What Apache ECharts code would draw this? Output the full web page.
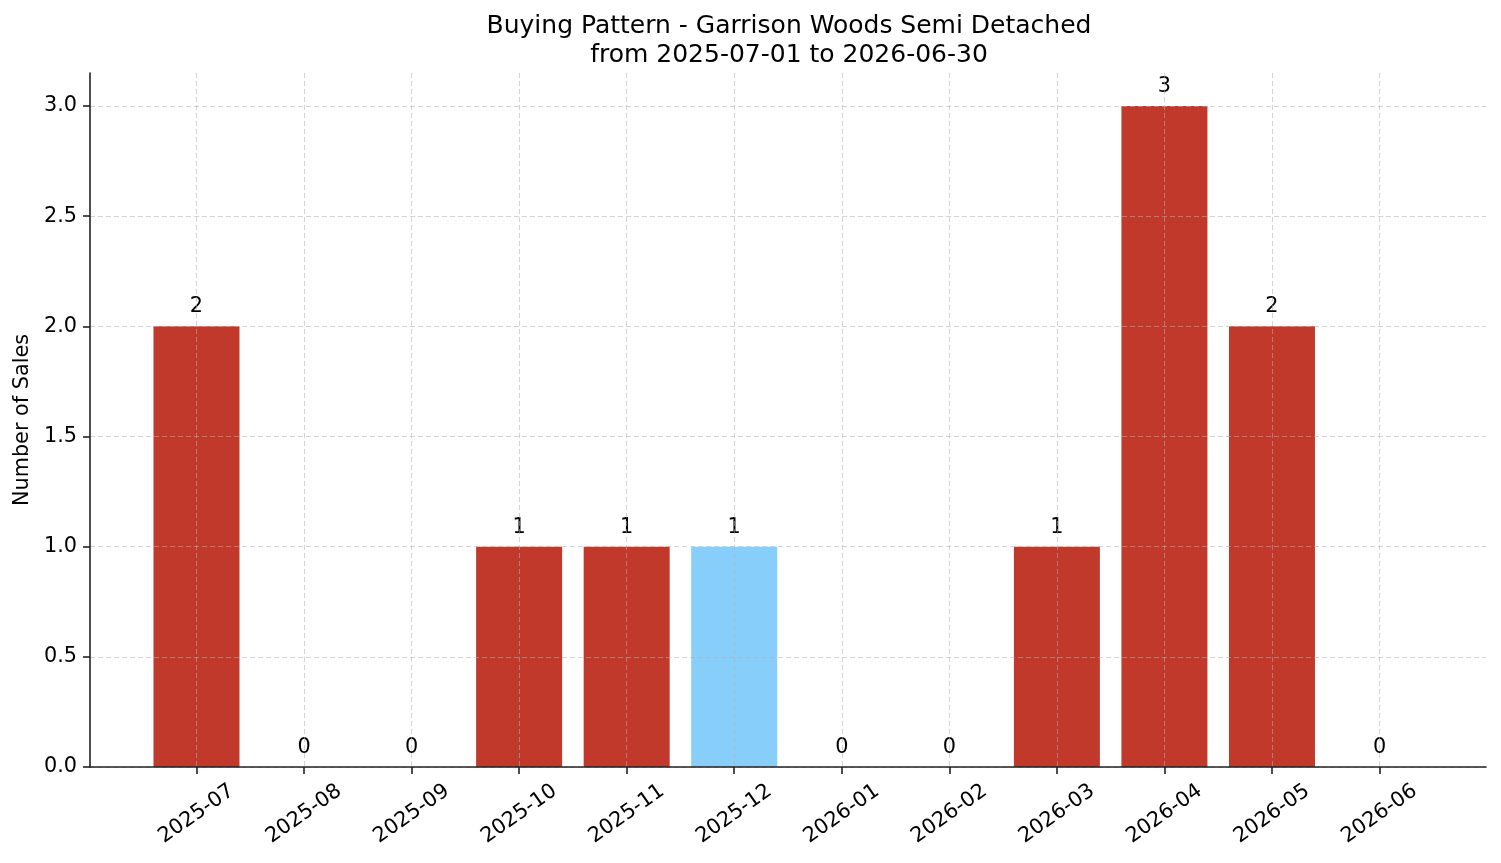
<!DOCTYPE html>
<html>
<head>
<meta charset="utf-8">
<title>Buying Pattern</title>
<script src="https://cdn.jsdelivr.net/npm/echarts@6/dist/echarts.min.js"></script>
<style>
  html, body { margin: 0; padding: 0; background: #fff; }
  #chart { width: 1501px; height: 863px; }
</style>
</head>
<body>
<div id="chart"></div>
<script>
// data
const months = ['2025-07', '2025-08', '2025-09', '2025-10', '2025-11', '2025-12',
  '2026-01', '2026-02', '2026-03', '2026-04', '2026-05', '2026-06'];
const sales = [2, 0, 0, 1, 1, 1, 0, 0, 1, 3, 2, 0];
const highlightMonth = '2025-12';
const yTicks = [0, 0.5, 1, 1.5, 2, 2.5, 3];

const FONT = 'DejaVu Sans';
const FS = 20.8;
const RED = '#c0392b';
const BLUE = '#87cefa';

let chart = echarts.init(document.getElementById('chart'), null, { renderer: 'canvas' });

// x positions are month indexes, so the axis can be padded like matplotlib does
const xIdx = months.map((m, i) => i);
const barData = months.map((m, i) => ({
  value: [i, sales[i]],
  itemStyle: { color: m === highlightMonth ? BLUE : RED }
}));

const gridLine = {
  show: true,
  lineStyle: { color: 'rgba(176,176,176,0.55)', width: 1, type: [5, 3] }
};
const spineStyle = { color: '#222', width: 1.6 };

let option = {
  backgroundColor: '#ffffff',
  animation: false,
  title: {
    text: 'Buying Pattern - Garrison Woods Semi Detached\nfrom 2025-07-01 to 2026-06-30',
    left: 784,
    top: 7,
    textAlign: 'center',
    textStyle: {
      fontFamily: FONT,
      fontSize: 25,
      fontWeight: 'normal',
      color: '#000',
      lineHeight: 29
    }
  },
  grid: { left: 90, right: 15, top: 73, bottom: 96 },
  xAxis: {
    type: 'value',
    min: -0.99,
    max: 11.99,
    z: 3,
    axisLine: { show: true, onZero: false, lineStyle: spineStyle },
    axisTick: { show: true, length: 7, customValues: xIdx, lineStyle: spineStyle },
    splitLine: gridLine,
    axisLabel: {
      customValues: xIdx,
      formatter: v => months[Math.round(v)] || '',
      rotate: 35,
      align: 'center',
      verticalAlign: 'middle',
      margin: 47,
      fontFamily: FONT,
      fontSize: FS,
      color: '#000'
    }
  },
  yAxis: {
    type: 'value',
    min: 0,
    max: 3.15,
    z: 3,
    name: 'Number of Sales',
    nameLocation: 'middle',
    nameGap: 54,
    nameTextStyle: { fontFamily: FONT, fontSize: FS, color: '#000' },
    axisLine: { show: true, onZero: false, lineStyle: spineStyle },
    axisTick: { show: true, length: 7, customValues: yTicks, lineStyle: spineStyle },
    splitLine: gridLine,
    axisLabel: {
      customValues: yTicks,
      formatter: v => v.toFixed(1),
      margin: 13,
      fontFamily: FONT,
      fontSize: FS,
      color: '#000'
    }
  },
  series: [{
    type: 'bar',
    barWidth: 86,
    data: barData,
    label: {
      show: true,
      position: 'top',
      distance: 9,
      formatter: p => String(p.value[1]),
      fontFamily: FONT,
      fontSize: FS,
      color: '#000'
    }
  }]
};

chart.setOption(option);
</script>
</body>
</html>
